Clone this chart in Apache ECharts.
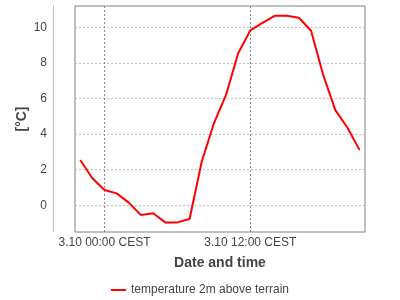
<!DOCTYPE html>
<html>
<head>
<meta charset="utf-8">
<script src="https://cdn.jsdelivr.net/npm/echarts@6/dist/echarts.min.js"></script>
<style>html,body{margin:0;padding:0;background:#fff}#c{width:400px;height:300px}</style>
</head>
<body>
<div id="c"></div>
<script>
// hours relative to 3.10 00:00 CEST
const hours = [-2,-1,0,1,2,3,4,5,6,7,8,9,10,11,12,13,14,15,16,17,18,19,20,21];
const temps = [2.55,1.52,0.86,0.67,0.15,-0.55,-0.45,-0.96,-0.96,-0.77,2.45,4.6,6.2,8.54,9.83,10.25,10.65,10.65,10.54,9.81,7.32,5.35,4.36,3.1];
const xTickHours = [0, 12];
const xTickLabels = ['3.10 00:00 CEST', '3.10 12:00 CEST'];
const yTicks = [0, 2, 4, 6, 8, 10];
const seriesName = 'temperature 2m above terrain';

const chart = echarts.init(document.getElementById('c'), null, {renderer: 'canvas'});
const font = 'Liberation Sans';
chart.setOption({
  backgroundColor: '#fff',
  animation: false,
  textStyle: {fontFamily: font},
  grid: {left: 75, right: 35, top: 6, bottom: 68, show: true, borderColor: '#808080', borderWidth: 1, backgroundColor: '#fff'},
  legend: {
    bottom: -1, left: 'center',
    itemWidth: 15, itemHeight: 2, itemGap: 6,
    icon: 'rect',
    textStyle: {fontFamily: font, fontSize: 12, color: '#444'},
    data: [seriesName]
  },
  xAxis: {
    type: 'value', min: -2.43, max: 21.44,
    name: 'Date and time', nameLocation: 'middle', nameGap: 24, nameMoveOverlap: false,
    nameTextStyle: {fontFamily: font, fontSize: 14, fontWeight: 'bold', color: '#444'},
    axisLine: {show: false, onZero: false},
    axisTick: {show: false, customValues: xTickHours},
    axisLabel: {customValues: xTickHours, margin: 5, fontSize: 12, color: '#444', fontFamily: font,
      formatter: v => xTickLabels[xTickHours.indexOf(v)] || ''},
    splitLine: {show: true, lineStyle: {color: '#888', type: [2, 2], width: 1}}
  },
  yAxis: {
    type: 'value', min: -1.5, max: 11.2, offset: 22,
    name: '[°C]', nameLocation: 'middle', nameGap: 24, nameRotate: 90, nameMoveOverlap: false,
    nameTextStyle: {fontFamily: font, fontSize: 14, fontWeight: 'bold', color: '#444'},
    axisLine: {show: true, onZero: false, lineStyle: {color: '#c0c0c0', width: 1}},
    axisTick: {show: false, customValues: yTicks},
    axisLabel: {customValues: yTicks, margin: 6, fontSize: 12, color: '#444', fontFamily: font},
    splitLine: {show: true, lineStyle: {color: '#c0c0c0', type: [2, 2], width: 1}}
  },
  series: [{
    name: seriesName, type: 'line', showSymbol: false, symbol: 'none',
    lineStyle: {color: '#ff0000', width: 2}, itemStyle: {color: '#ff0000'},
    data: hours.map((h, i) => [h, temps[i]])
  }]
});
</script>
</body>
</html>
